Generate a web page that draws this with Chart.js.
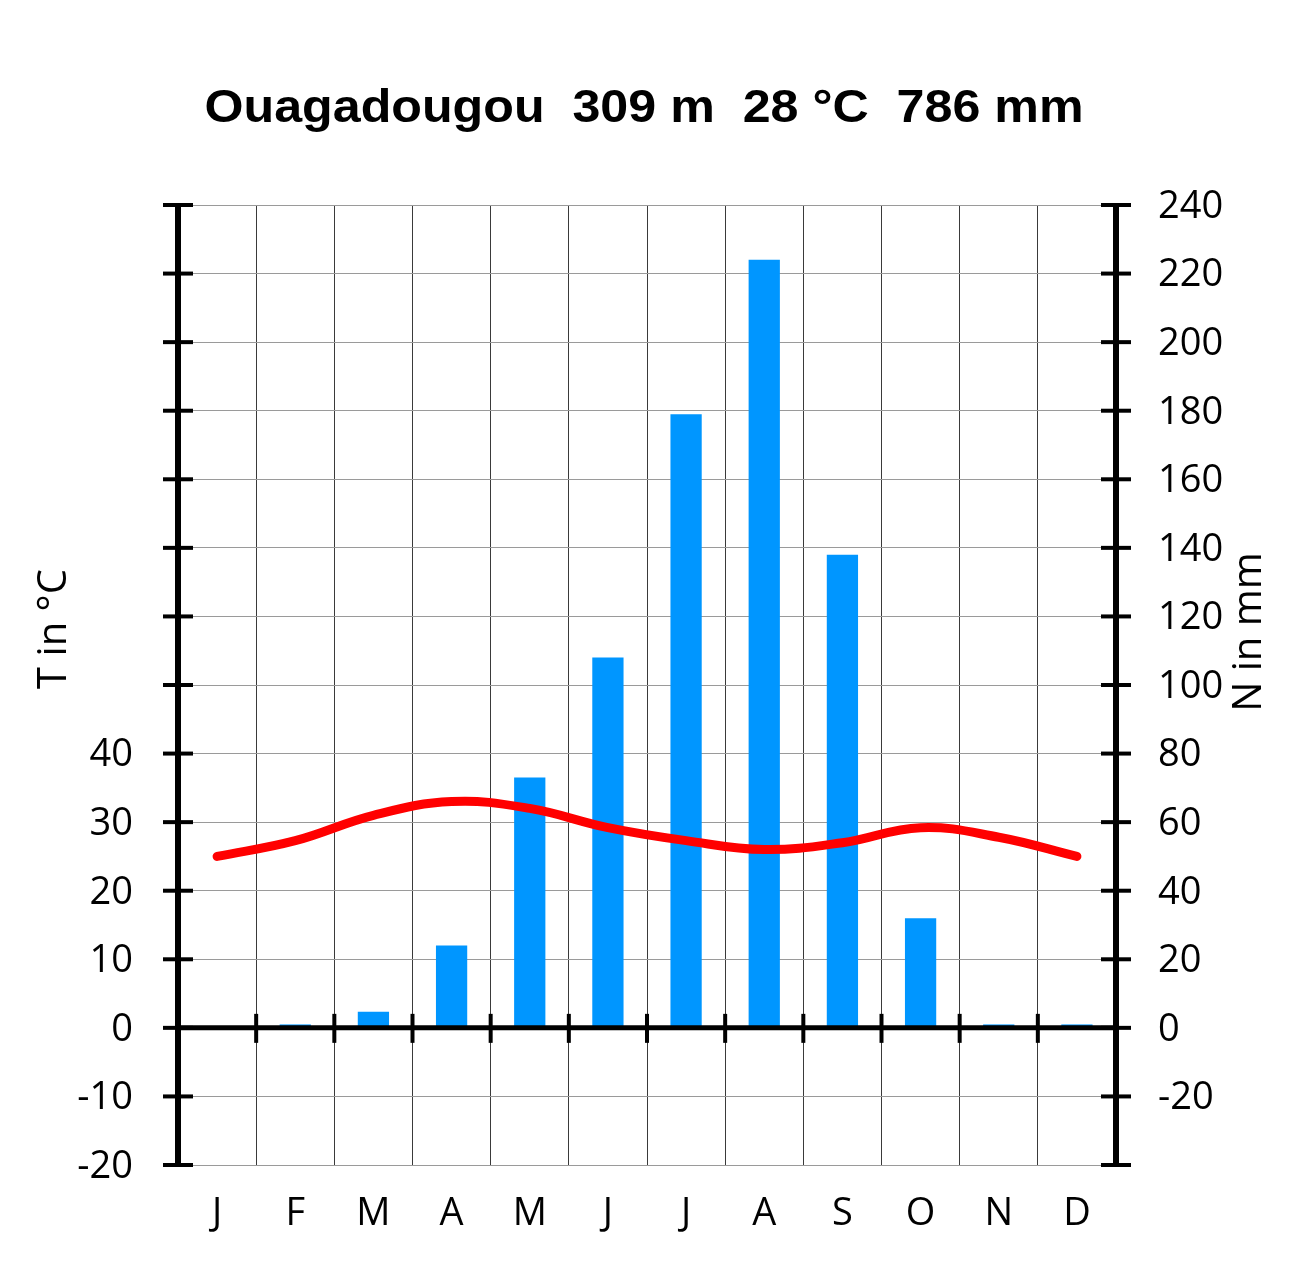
<!DOCTYPE html>
<html>
<head>
<meta charset="utf-8">
<script src="https://cdn.jsdelivr.net/npm/chart.js@4/dist/chart.umd.min.js"></script>
<style>
html,body{margin:0;padding:0;background:#fff;}
#wrap{width:1300px;height:1277px;}
</style>
</head>
<body>
<div id="wrap"><canvas id="c" width="1300" height="1277"></canvas></div>
<script>
const titleText = 'Ouagadougou  309 m  28 °C  786 mm';
const months = ['J','F','M','A','M','J','J','A','S','O','N','D'];
const precipitation = [0, 1, 4.7, 24, 73, 108, 179, 224, 138, 32, 1, 1];
const temperature = [25, 27.3, 31, 33, 32, 29.2, 27.3, 26, 27, 29.2, 27.8, 25];
const tempTicksLabelled = [-20, -10, 0, 10, 20, 30, 40];
const tempAxisTitle = 'T in °C';
const precAxisTitle = 'N in mm';

const AREA = {left:178, right:1116, top:205, bottom:1165};
const LABEL_FONT = {family:'"Open Sans", "Noto Sans", sans-serif', size:38};

const decor = {
  id:'decor',
  afterDatasetsDraw(chart){
    const ctx = chart.ctx;
    const a = chart.chartArea;
    const yT = chart.scales.yT, yP = chart.scales.yP, x = chart.scales.x;
    ctx.save();
    ctx.strokeStyle = '#000';
    ctx.lineCap = 'butt';
    // zero line
    const y0 = yT.getPixelForValue(0);
    ctx.lineWidth = 5;
    ctx.beginPath(); ctx.moveTo(a.left, y0); ctx.lineTo(a.right, y0); ctx.stroke();
    // month boundary ticks on zero line
    ctx.lineWidth = 4;
    for (let i = 1; i < months.length; i++) {
      const px = (x.getPixelForValue(i-1) + x.getPixelForValue(i)) / 2;
      ctx.beginPath(); ctx.moveTo(px, y0-14); ctx.lineTo(px, y0+15); ctx.stroke();
    }
    // left & right axes
    ctx.lineWidth = 6;
    ctx.beginPath(); ctx.moveTo(a.left, a.top-2); ctx.lineTo(a.left, a.bottom+2); ctx.stroke();
    ctx.beginPath(); ctx.moveTo(a.right, a.top-2); ctx.lineTo(a.right, a.bottom+2); ctx.stroke();
    // tick marks
    ctx.lineWidth = 4;
    yT.ticks.forEach(t => {
      const py = yT.getPixelForValue(t.value);
      ctx.beginPath(); ctx.moveTo(a.left-15, py); ctx.lineTo(a.left+15, py); ctx.stroke();
    });
    yP.ticks.forEach(t => {
      const py = yP.getPixelForValue(t.value);
      ctx.beginPath(); ctx.moveTo(a.right-15, py); ctx.lineTo(a.right+15, py); ctx.stroke();
    });
    // title
    ctx.fillStyle = '#000';
    ctx.textAlign = 'center';
    ctx.textBaseline = 'middle';
    ctx.font = 'bold 46px "Liberation Sans", Arial, sans-serif';
    const w = ctx.measureText(titleText).width;
    const sx = 879 / w;
    ctx.save(); ctx.translate(644, 109); ctx.scale(sx, 1); ctx.fillText(titleText, 0, 0); ctx.restore();
    // axis titles
    ctx.font = '40px "Open Sans", "Noto Sans", sans-serif';
    ctx.save(); ctx.translate(55, 629); ctx.rotate(-Math.PI/2); ctx.fillText(tempAxisTitle, 0, 0); ctx.restore();
    ctx.save(); ctx.translate(1250, 632); ctx.rotate(-Math.PI/2); ctx.fillText(precAxisTitle, 0, 0); ctx.restore();
    ctx.restore();
  }
};

new Chart(document.getElementById('c'), {
  data: {
    labels: months,
    datasets: [
      {
        type:'line', label:'T', data: temperature, yAxisID:'yT',
        borderColor:'#ff0000', borderWidth:9, tension:0.4,
        pointRadius:0, borderCapStyle:'round', fill:false, order:0
      },
      {
        type:'bar', label:'N', data: precipitation, yAxisID:'yP',
        backgroundColor:'#0096ff', borderWidth:0,
        categoryPercentage:1, barPercentage:0.4, order:1
      }
    ]
  },
  options: {
    responsive:false, animation:false, devicePixelRatio:1,
    layout:{padding:{top:AREA.top, left:0, right:0, bottom:0}},
    plugins:{legend:{display:false}, title:{display:false}, tooltip:{enabled:false}},
    scales:{
      x:{
        type:'category', offset:true,
        grid:{display:true, offset:true, color:'#3a3a3a', lineWidth:1, drawTicks:false},
        border:{display:false},
        ticks:{color:'#000', font:LABEL_FONT, padding:26, maxRotation:0, autoSkip:false},
        afterFit(s){ s.height = 1277 - AREA.bottom; }
      },
      yT:{
        position:'left', min:-20, max:120,
        grid:{display:false, drawTicks:false},
        border:{display:false},
        ticks:{stepSize:10, color:'#000', font:LABEL_FONT, padding:45, labelOffset:2,
          callback:(v)=> tempTicksLabelled.includes(v) ? String(v) : ''},
        afterFit(s){ s.width = AREA.left; }
      },
      yP:{
        position:'right', min:-40, max:240,
        grid:{display:true, color:'#9a9a9a', lineWidth:1, drawTicks:false},
        border:{display:false},
        ticks:{stepSize:20, color:'#000', font:LABEL_FONT, padding:42, labelOffset:2,
          callback:(v)=> v === -40 ? '' : String(v)},
        afterFit(s){ s.width = 1300 - AREA.right; }
      }
    }
  },
  plugins:[decor]
});
</script>
</body>
</html>
